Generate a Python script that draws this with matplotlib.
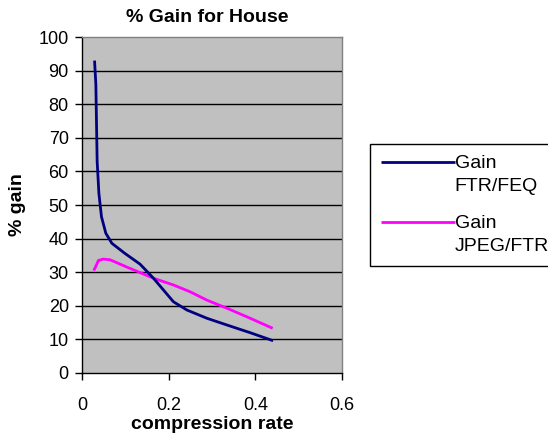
import matplotlib
matplotlib.use('Agg')
import numpy as np
import matplotlib.pyplot as plt
from matplotlib.legend_handler import HandlerLine2D

plt.rcParams['font.family'] = ['Liberation Sans', 'DejaVu Sans']
FS = 14
TICK_FS = 13

# compression rate vs gain
rate_feq = [0.029, 0.032, 0.035, 0.039, 0.045, 0.055, 0.069, 0.099, 0.134,
            0.165, 0.188, 0.211, 0.242, 0.288, 0.334, 0.388, 0.441]
gain_feq = [93, 86, 63, 53.5, 46.5, 41.6, 38.6, 35.6, 32.4,
            28.2, 24.7, 21.2, 18.75, 16.3, 14.3, 12.0, 9.6]

rate_jpeg = [0.027, 0.03, 0.038, 0.049, 0.065, 0.104, 0.134, 0.165, 0.211,
             0.249, 0.288, 0.334, 0.388, 0.44]
gain_jpeg = [30.5, 31.2, 33.5, 33.9, 33.7, 31.5, 29.9, 28.2, 26.2,
             24.2, 21.7, 19.3, 16.3, 13.3]


class TopLine(HandlerLine2D):
    # legend line sits next to the first line of a two-line label
    def __init__(self, shift, **kw):
        super().__init__(**kw)
        self.shift = shift

    def create_artists(self, legend, orig_handle, xdescent, ydescent,
                       width, height, fontsize, trans):
        arts = super().create_artists(legend, orig_handle, xdescent, ydescent,
                                      width, height, fontsize, trans)
        for a in arts:
            a.set_ydata(np.asarray(a.get_ydata()) + self.shift)
        return arts


fig = plt.figure(figsize=(5.48, 4.34), dpi=100)
ax = fig.add_axes([0.1496, 0.1406, 0.4745, 0.774])
ax.set_facecolor('#C0C0C0')

for yv in range(10, 100, 10):
    ax.axhline(yv, color='black', lw=1, zorder=1)

l1, = ax.plot(rate_feq, gain_feq, color='#000080', lw=2, zorder=3,
              solid_capstyle='butt', solid_joinstyle='round',
              label='Gain\nFTR/FEQ')
l2, = ax.plot(rate_jpeg, gain_jpeg, color='#FF00FF', lw=2, zorder=2,
              solid_capstyle='butt', solid_joinstyle='round',
              label='Gain\nJPEG/FTR')

ax.set_xlim(0, 0.6)
ax.set_ylim(0, 100)
ax.set_xticks([0, 0.2, 0.4, 0.6])
ax.set_xticklabels(['0', '0.2', '0.4', '0.6'])
ax.set_yticks(range(0, 101, 10))
ax.tick_params(direction='out', length=5, width=1, labelsize=TICK_FS,
               colors='black')
ax.tick_params(axis='x', pad=12)
ax.tick_params(axis='y', pad=4.5)

ax.spines['left'].set_color('black')
ax.spines['bottom'].set_color('black')
ax.spines['top'].set_color('#808080')
ax.spines['right'].set_color('#808080')
for sp in ax.spines.values():
    sp.set_linewidth(1)

ax.set_title('% Gain for House', fontsize=FS, fontweight='bold', x=0.483, pad=11)
ax.set_xlabel('compression rate', fontsize=FS, fontweight='bold', labelpad=2)
ax.set_ylabel('% gain', fontsize=FS, fontweight='bold', labelpad=9)

leg = fig.legend(handles=[l1, l2], loc='upper left',
                 bbox_to_anchor=(370 / 548, 1 - 144 / 434),
                 fontsize=FS, frameon=True, fancybox=False, framealpha=1,
                 edgecolor='black', handlelength=3.8, handletextpad=0,
                 borderpad=0.55, labelspacing=1.05, borderaxespad=0,
                 handler_map={l1: TopLine(9), l2: TopLine(9)})
leg.get_frame().set_linewidth(1)
for t in leg.get_texts():
    t.set_linespacing(1.45)

fig.savefig('out.png', dpi=100)
